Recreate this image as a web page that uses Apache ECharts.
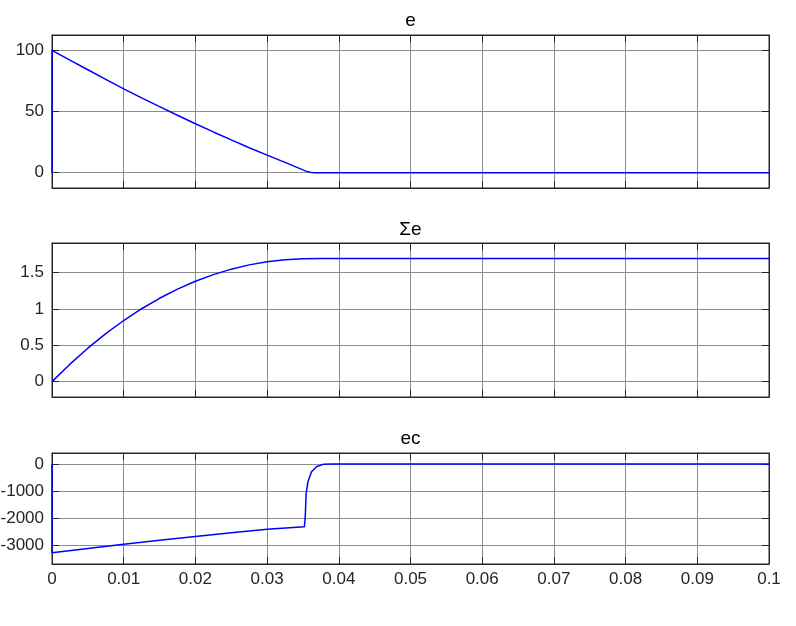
<!DOCTYPE html>
<html>
<head>
<meta charset="utf-8">
<script src="https://cdn.jsdelivr.net/npm/echarts@6/dist/echarts.min.js"></script>
<style>
html,body{margin:0;padding:0;background:#fff;}
#chart{width:796px;height:626px;}
</style>
</head>
<body>
<div id="chart"></div>
<script>
// ---- data ----
var titles = ['e', 'Σe', 'ec'];
var xTicks = [0, 0.01, 0.02, 0.03, 0.04, 0.05, 0.06, 0.07, 0.08, 0.09, 0.1];

// e(t)
var tE = [0, 0, 0.0025, 0.005, 0.0075, 0.01, 0.0125, 0.015, 0.0175, 0.02, 0.0225, 0.025, 0.0275, 0.03, 0.0325, 0.034, 0.035, 0.0355, 0.036, 0.0365, 0.037, 0.04, 0.1];
var eVals = [0, 100, 92.0, 84.1, 76.2, 68.5, 61.1, 54.0, 46.9, 40.0, 33.3, 26.8, 20.4, 14.4, 8.4, 4.8, 2.3, 1.1, 0.3, 0.05, 0, 0, 0];

// Σe(t)
var tS = [0, 0.0025, 0.005, 0.0075, 0.01, 0.0125, 0.015, 0.0175, 0.02, 0.0225, 0.025, 0.0275, 0.03, 0.0325, 0.035, 0.0375, 0.04, 0.1];
var sVals = [0, 0.240, 0.460, 0.660, 0.841, 1.003, 1.147, 1.273, 1.382, 1.473, 1.548, 1.607, 1.651, 1.679, 1.692, 1.695, 1.696, 1.696];

// ec(t)
var tC = [0, 0, 0.005, 0.01, 0.015, 0.02, 0.025, 0.03, 0.0352, 0.0353, 0.03545, 0.0357, 0.0362, 0.0369, 0.0378, 0.039, 0.1];
var cVals = [0, -3295, -3135, -2978, -2832, -2694, -2555, -2424, -2325, -2066, -1081, -653, -284, -100, -10, 0, 0];

// y-axis ranges and tick labels
var yMin = [-12.5, -0.212, -3712];
var yMax = [112.5, 1.908, 412];
var yTicks = [
  [0, 50, 100],
  [0, 0.5, 1, 1.5],
  [-3000, -2000, -1000, 0]
];

// ---- chart ----
var gridBoxes = [
  {left: 52, top: 35, width: 717, height: 153},
  {left: 52, top: 243, width: 717, height: 154},
  {left: 52, top: 453, width: 717, height: 111}
];
var axisColor = '#262626';
var gridColor = '#8c8c8c';
var fontFam = 'Liberation Sans, Arial, sans-serif';

function pairs(xs, ys) {
  var out = [];
  for (var i = 0; i < xs.length; i++) out.push([xs[i], ys[i]]);
  return out;
}
function fmt(v) { return String(Math.round(v * 1000) / 1000); }
var seriesData = [pairs(tE, eVals), pairs(tS, sVals), pairs(tC, cVals)];

var grids = [], xAxes = [], yAxes = [], series = [], graphics = [];
for (var i = 0; i < 3; i++) {
  var g = gridBoxes[i];
  grids.push({left: g.left, top: g.top, width: g.width, height: g.height,
    outerBoundsMode: 'none', containLabel: false,
    show: true, borderColor: axisColor, borderWidth: 1, backgroundColor: '#fff'});
  xAxes.push({
    gridIndex: i, type: 'value', position: 'bottom', min: 0, max: 0.1, interval: 0.01,
    axisLine: {show: true, onZero: false, lineStyle: {color: axisColor, width: 1}},
    axisTick: {show: true, inside: true, length: 7, lineStyle: {color: axisColor}},
    axisLabel: {show: i === 2, color: axisColor, fontSize: 17, fontFamily: fontFam, margin: 7,
      customValues: xTicks, formatter: fmt},
    splitLine: {show: true, lineStyle: {color: gridColor, width: 1}}
  });
  xAxes.push({
    gridIndex: i, type: 'value', position: 'top', min: 0, max: 0.1, interval: 0.01,
    axisLine: {show: true, onZero: false, lineStyle: {color: axisColor, width: 1}},
    axisTick: {show: true, inside: true, length: 7, lineStyle: {color: axisColor}},
    axisLabel: {show: false},
    splitLine: {show: false}
  });
  yAxes.push({
    gridIndex: i, type: 'value', position: 'left', min: yMin[i], max: yMax[i],
    axisLine: {show: true, onZero: false, lineStyle: {color: axisColor, width: 1}},
    axisTick: {show: true, inside: true, length: 7, lineStyle: {color: axisColor}, customValues: yTicks[i]},
    axisLabel: {show: true, color: axisColor, fontSize: 17, fontFamily: fontFam, margin: 8,
      customValues: yTicks[i], formatter: fmt},
    splitLine: {show: true, lineStyle: {color: gridColor, width: 1}}
  });
  yAxes.push({
    gridIndex: i, type: 'value', position: 'right', min: yMin[i], max: yMax[i],
    axisLine: {show: true, onZero: false, lineStyle: {color: axisColor, width: 1}},
    axisTick: {show: true, inside: true, length: 7, lineStyle: {color: axisColor}, customValues: yTicks[i]},
    axisLabel: {show: false},
    splitLine: {show: false}
  });
  series.push({
    type: 'line', xAxisIndex: 2 * i, yAxisIndex: 2 * i, data: seriesData[i],
    showSymbol: false, symbol: 'none', smooth: false,
    lineStyle: {color: '#0000ff', width: 1.5}, itemStyle: {color: '#0000ff'}
  });
}
var titleY = [21, 230, 439];
for (var k = 0; k < 3; k++) {
  graphics.push({type: 'text', x: 410.5, y: titleY[k], silent: true,
    style: {text: titles[k], align: 'center', verticalAlign: 'middle',
      font: '19px ' + fontFam, fill: '#000'}});
}

var chart = echarts.init(document.getElementById('chart'), null, {renderer: 'canvas'});
chart.setOption({
  animation: false,
  backgroundColor: '#fff',
  grid: grids,
  xAxis: xAxes,
  yAxis: yAxes,
  series: series,
  graphic: graphics
});
</script>
</body>
</html>
